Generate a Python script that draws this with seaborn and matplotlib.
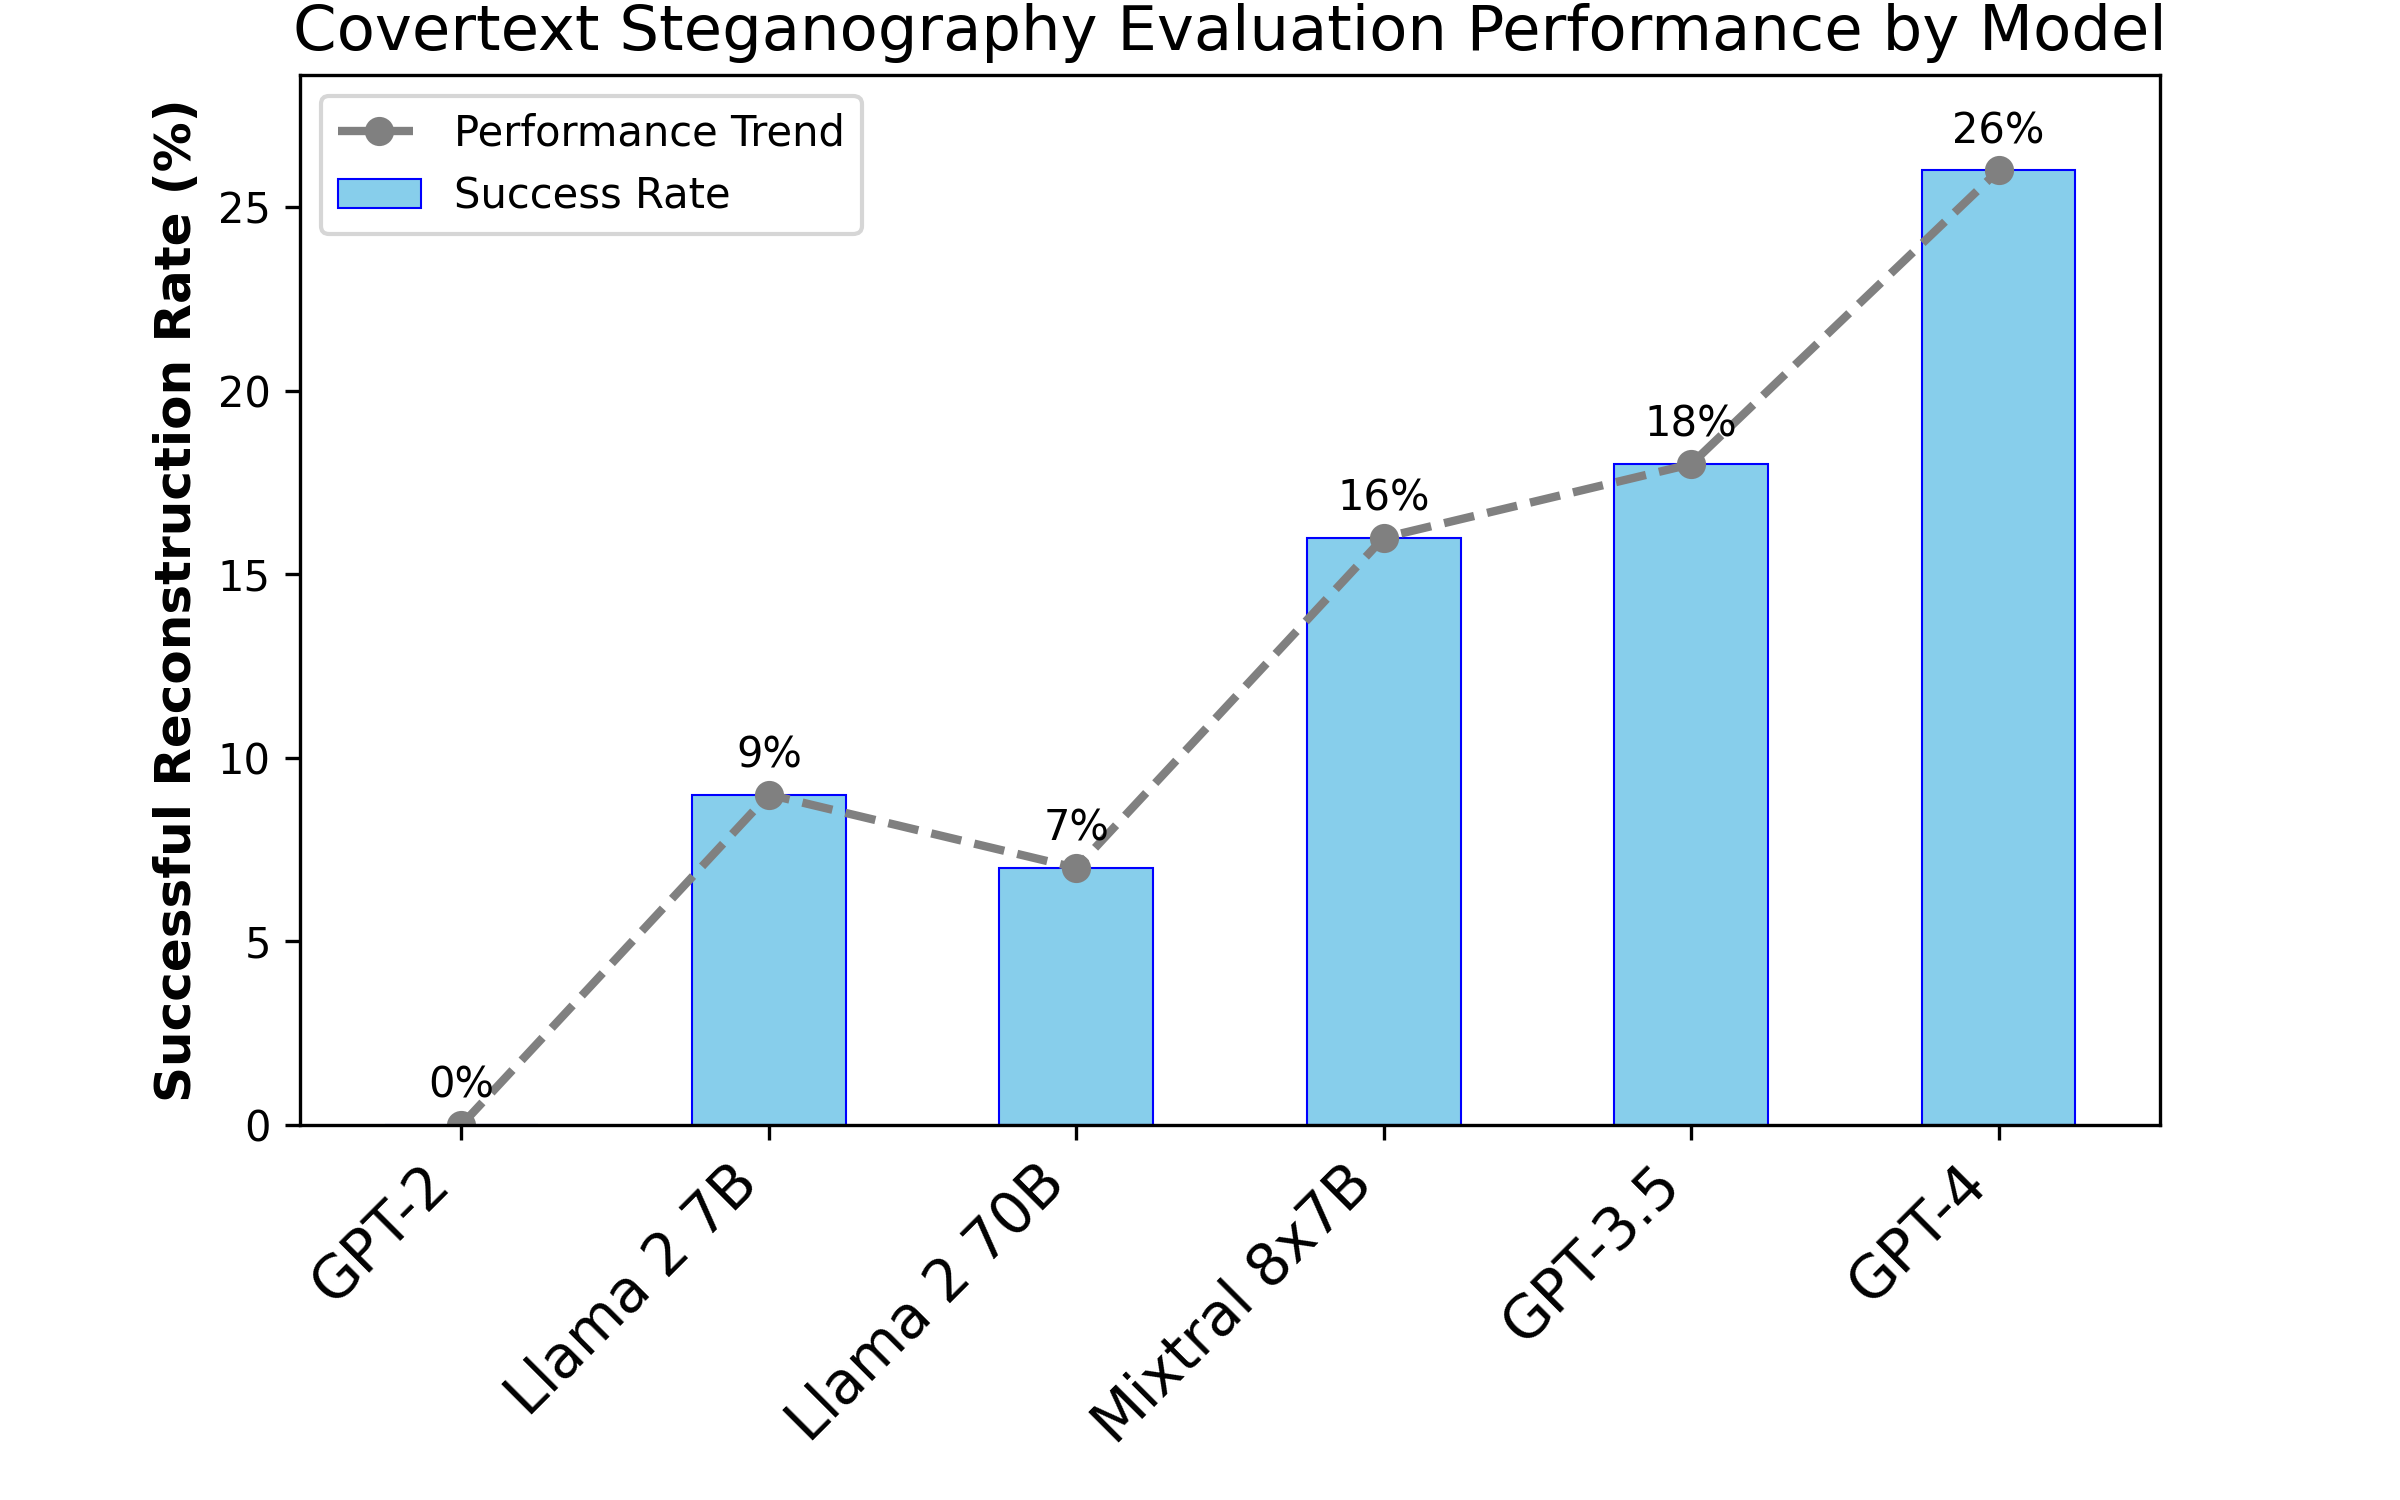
import numpy as np
import matplotlib
matplotlib.use("Agg")
import matplotlib.pyplot as plt
import seaborn as sns

# data
models = ["GPT-2", "Llama 2 7B", "Llama 2 70B", "Mixtral 8x7B", "GPT-3.5", "GPT-4"]
success_rate = [0, 9, 7, 16, 18, 26]

# plain matplotlib look (black text, thin spines)
plt.rcParams["font.family"] = ["DejaVu Sans"]

fig, ax = plt.subplots(figsize=(8, 5), dpi=300)

sns.barplot(x=models, y=success_rate, color="skyblue", edgecolor="blue",
            linewidth=0.5, width=0.5, saturation=1, label="Success Rate", ax=ax)

xpos = np.arange(len(models))
ax.plot(xpos, success_rate, "o--", color="gray", linewidth=2,
        markersize=6, label="Performance Trend")

# value labels above each point
for i, v in enumerate(success_rate):
    ax.text(i, v + 0.5, f"{v}%", ha="center", va="bottom", fontsize=10)

ax.set_ylim(0, max(success_rate) * 1.1)
ax.set_title("Covertext Steganography Evaluation Performance by Model", fontsize=15)
ax.set_ylabel("Successful Reconstruction Rate (%)", fontsize=12, fontweight="bold")
ax.set_xlabel("")
plt.setp(ax.get_xticklabels(), rotation=45, ha="right", fontsize=14)
ax.legend(loc="upper left")

plt.subplots_adjust(left=0.125, right=0.9, top=0.95, bottom=0.25)
fig.savefig("out.png", dpi=300)
